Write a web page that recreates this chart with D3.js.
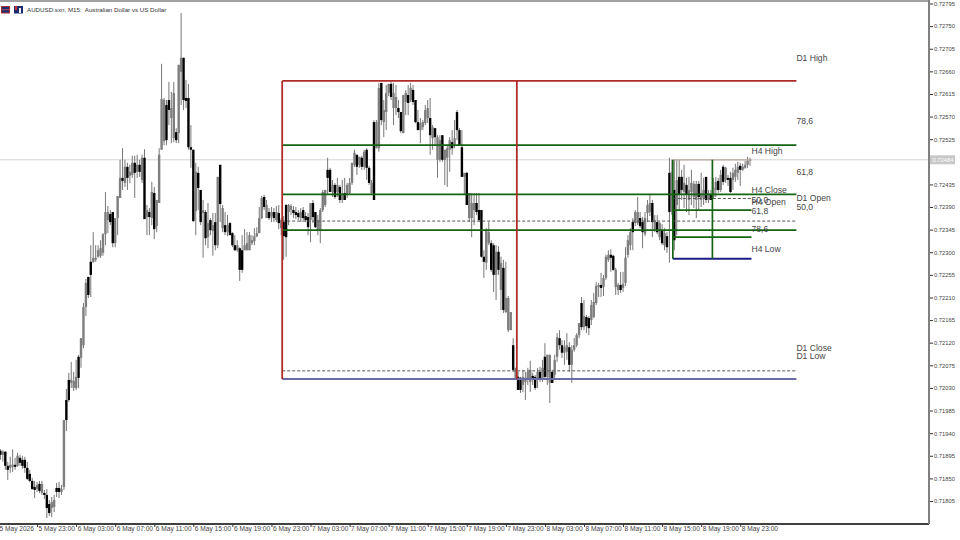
<!DOCTYPE html>
<html><head><meta charset="utf-8">
<script src="https://cdn.jsdelivr.net/npm/d3@7"></script>
<style>
html,body{margin:0;padding:0;background:#fff;overflow:hidden}
svg{display:block}
text{font-family:"Liberation Sans",Arial,sans-serif}
</style></head><body>
<svg id="c" width="960" height="540"></svg>
<script>
// All prices in points (price x 100000)
const opens=[71903,71905,71897,71903,71875,71871,71873,71877,71875,71891,
71887,71887,71871,71859,71845,71833,71829,71839,71821,71821,
71817,71799,71791,71793,71831,71831,71823,71833,72006,72046,
72040,72030,72030,72092,72090,72115,72191,72251,
72281,72281,72285,72291,72293,72299,72336,72364,72376,72380,72318,72368,
72408,72448,72438,72470,72452,72454,72478,72460,72474,72444,
72488,72370,72380,72368,72418,72352,72398,72504,72521,72593,
72603,72567,72527,72539,72537,72659,72687,72607,72607,72509,
72504,72382,72458,72424,72378,72380,72330,72364,72342,72360,
72314,72474,72348,72354,72340,72358,72338,72314,72304,72308,
72304,72304,72304,72304,72318,72322,72332,72338,72368,72410,
72368,72380,72372,72380,72364,72378,72348,72360,72394,72380,
72384,72384,72380,72378,72368,72384,72372,72370,72364,72398,
72380,72344,72344,72384,72394,72464,72464,72420,72434,72420,
72430,72404,72418,72414,72418,72438,72474,72494,72474,72488,
72470,72504,72468,72418,72559,72507,72507,72637,72559,72579,
72617,72635,72587,72587,72587,72579,72537,72599,72613,72603,
72623,72603,72559,72543,72549,72557,72567,72567,72527,72547,
72484,72484,72533,72484,72488,72504,72519,72513,72579,72543,
72509,72450,72458,72368,72368,72384,72398,72384,72384,72291,
72279,72318,72318,72314,72255,72301,72225,72269,72181,72145,
72145,72115,72050,72052,72050,72036,72042,72046,72042,72054,
72052,72046,72062,72050,72092,72052,72040,72062,72056,72092,
72129,72115,72100,72102,72111,72076,72106,72115,72135,72199,
72151,72171,72169,72165,72171,72199,72231,72235,72231,72249,
72285,72295,72293,72231,72225,72235,72229,72239,72295,72314,
72360,72358,72358,72368,72360,72336,72378,72380,72398,72344,
72360,72330,72344,72314,72332,72458,72380,72424,72394,72450,
72450,72420,72434,72404,72420,72410,72404,72436,72404,72408,
72450,72404,72414,72410,72424,72442,72424,72470,72444,72448,
72448,72444,72450,72458,72472,72464,72468,72474,72482];
const highs=[71910,71908,71906,71904,71883,71893,71908,71891,71901,71897,
71895,71893,71883,71867,71851,71845,71843,71845,71845,71827,
71829,71807,71813,71817,71841,71843,71837,71966,72028,72060,
72082,72062,72086,72096,72129,72199,72247,72251,
72314,72340,72314,72314,72324,72338,72420,72392,72384,72380,72368,72412,
72484,72507,72484,72478,72474,72492,72492,72494,72484,72494,
72505,72394,72388,72440,72430,72404,72507,72675,72607,72603,
72639,72619,72639,72547,72673,72776,72687,72643,72635,72553,
72504,72478,72470,72424,72404,72384,72398,72368,72378,72378,
72450,72474,72394,72380,72374,72360,72340,72334,72324,72310,
72334,72346,72340,72340,72334,72348,72350,72390,72412,72414,
72404,72388,72390,72388,72392,72394,72368,72372,72396,72396,
72396,72392,72390,72384,72388,72390,72380,72378,72398,72404,
72380,72374,72388,72424,72424,72488,72468,72444,72438,72448,
72434,72444,72448,72438,72448,72478,72504,72494,72490,72492,
72504,72507,72472,72444,72563,72563,72637,72637,72603,72633,
72635,72639,72637,72633,72603,72579,72613,72623,72633,72637,
72633,72603,72583,72567,72563,72593,72603,72607,72553,72547,
72533,72533,72533,72504,72513,72529,72543,72563,72583,72547,
72543,72458,72460,72418,72418,72418,72418,72418,72384,72304,
72348,72360,72324,72318,72314,72312,72291,72285,72281,72213,
72181,72129,72070,72062,72052,72066,72062,72070,72084,72060,
72056,72070,72072,72086,72119,72096,72096,72066,72096,72139,
72145,72125,72125,72139,72121,72115,72129,72139,72159,72211,
72205,72175,72173,72205,72219,72241,72239,72259,72255,72295,
72304,72306,72295,72269,72239,72261,72261,72310,72334,72348,
72368,72384,72410,72380,72370,72380,72404,72414,72404,72374,
72374,72360,72356,72348,72340,72488,72484,72484,72484,72484,
72464,72474,72448,72450,72464,72442,72442,72442,72458,72448,
72450,72424,72424,72448,72450,72448,72464,72474,72470,72454,
72460,72468,72476,72480,72478,72476,72482,72490,72488];
const lows=[71891,71887,71883,71867,71847,71861,71863,71867,71873,71875,
71869,71861,71847,71843,71827,71811,71823,71821,71817,71809,
71771,71775,71773,71783,71813,71811,71817,71827,71944,72002,
72030,72024,72026,72030,72070,72109,72173,72209,
72211,72279,72281,72289,72289,72293,72314,72338,72354,72310,72310,72334,
72408,72424,72430,72424,72438,72448,72408,72448,72450,72438,
72366,72334,72334,72354,72326,72340,72398,72504,72513,72513,
72553,72517,72519,72517,72517,72593,72583,72587,72504,72468,
72360,72334,72384,72354,72289,72314,72308,72334,72293,72304,
72308,72360,72340,72334,72332,72334,72310,72303,72301,72243,
72259,72304,72304,72304,72314,72314,72330,72338,72366,72384,
72368,72364,72360,72360,72360,72346,72334,72285,72291,72354,
72374,72368,72366,72364,72360,72364,72360,72334,72320,72358,
72348,72334,72318,72380,72390,72414,72420,72410,72406,72410,
72398,72398,72404,72408,72414,72434,72470,72454,72468,72464,
72464,72444,72434,72414,72404,72507,72500,72553,72529,72543,
72611,72603,72553,72573,72567,72537,72537,72573,72573,72599,
72593,72557,72543,72517,72543,72553,72557,72494,72504,72513,
72448,72480,72480,72434,72430,72460,72494,72507,72523,72513,
72450,72414,72394,72360,72330,72354,72374,72360,72289,72249,
72265,72314,72261,72221,72205,72255,72185,72179,72179,72141,
72145,72062,72046,72026,72020,72022,72006,72036,72022,72036,
72026,72030,72042,72042,72046,72036,72000,72040,72050,72082,
72106,72090,72076,72086,72062,72040,72102,72111,72129,72145,
72145,72139,72135,72155,72169,72195,72211,72211,72213,72245,
72281,72261,72263,72215,72215,72219,72221,72233,72289,72304,
72304,72352,72354,72348,72308,72332,72360,72372,72330,72340,
72336,72324,72314,72304,72299,72279,72374,72304,72334,72384,
72404,72388,72380,72374,72394,72388,72368,72384,72390,72394,
72398,72398,72404,72406,72410,72418,72420,72434,72438,72432,
72418,72424,72440,72444,72432,72462,72466,72468,72472];
const closes=[71903,71897,71903,71875,71867,71877,71877,71873,71895,71881,
71875,71871,71849,71845,71829,71827,71837,71825,71839,71817,
71791,71781,71803,71807,71823,71823,71829,71966,71966,72006,
72046,72044,72052,72050,72129,72191,72239,72215,
72255,72289,72289,72304,72308,72336,72380,72380,72360,72318,72368,72412,
72448,72442,72470,72448,72460,72478,72458,72474,72460,72488,
72366,72384,72370,72420,72346,72404,72494,72605,72603,72523,
72583,72587,72617,72523,72673,72687,72603,72601,72509,72504,
72362,72460,72428,72360,72384,72328,72358,72344,72354,72314,
72450,72396,72388,72340,72354,72334,72314,72304,72314,72265,
72265,72314,72318,72334,72324,72332,72338,72368,72408,72390,
72394,72368,72380,72368,72380,72358,72364,72332,72330,72394,
72392,72378,72374,72370,72380,72368,72364,72350,72398,72370,
72350,72364,72384,72420,72424,72448,72420,72434,72410,72434,
72404,72414,72404,72434,72438,72478,72498,72470,72490,72470,
72500,72468,72438,72438,72404,72559,72627,72563,72583,72617,
72635,72609,72617,72609,72579,72541,72613,72617,72597,72627,
72599,72559,72543,72557,72559,72583,72587,72533,72549,72529,
72529,72523,72484,72504,72507,72523,72507,72527,72543,72513,
72450,72458,72394,72418,72398,72398,72380,72364,72291,72281,
72344,72340,72265,72255,72301,72265,72279,72185,72209,72209,
72181,72066,72070,72026,72026,72052,72050,72062,72066,72046,
72030,72062,72048,72070,72052,72096,72096,72040,72086,72131,
72115,72100,72111,72115,72076,72106,72115,72135,72159,72151,
72173,72153,72149,72195,72201,72233,72235,72229,72249,72291,
72295,72289,72265,72265,72235,72225,72237,72289,72324,72340,
72340,72380,72380,72352,72340,72368,72394,72398,72360,72364,
72340,72358,72318,72338,72310,72380,72460,72324,72444,72414,
72424,72438,72414,72424,72438,72436,72436,72410,72418,72424,
72404,72418,72404,72428,72440,72424,72454,72440,72468,72444,
72420,72458,72464,72470,72464,72470,72474,72482,72484];

const priceTicks=[72795,72750,72705,72660,72615,72570,72525,72435,72390,72345,72300,72255,72210,72165,72120,72075,72030,71985,71940,71895,71850,71805];
const timeTickBars=[0,16,32,48,64,80,96,112,128,144,160,176,192,208,224,240,256,272,288,304];
const timeTickLabels=["5 May 2026","5 May 23:00","6 May 03:00","6 May 07:00","6 May 11:00","6 May 15:00","6 May 19:00","6 May 23:00","7 May 03:00","7 May 07:00","7 May 11:00","7 May 15:00","7 May 19:00","7 May 23:00","8 May 03:00","8 May 07:00","8 May 11:00","8 May 15:00","8 May 19:00","8 May 23:00"];
const lastPrice=72484;

// Level lines: [price, start bar, end bar, kind]
const d1Start=116.4,d1Mid=212.5,d1End=327;
const h4Start=276.4,h4Mid=292.6,h4End=308.6;
const d1High=72641,d1Low=72048,d1Close=72064,d1Fib786=72513,d1Fib618=72415,d1Fib50=72362,d1Fib382=72344;
const h4High=72484,h4Low=72287,h4Fib50=72407,h4Fib618=72384,h4Fib786=72330;

const levelPrices=[d1High,d1Fib786,d1Fib618,d1Fib50,d1Fib382,d1Close,d1Low,h4High,h4Fib50,h4Fib618,h4Fib786,h4Low];
const levelStarts=[d1Start,d1Start,d1Start,d1Start,d1Start,d1Start,d1Start,h4Start,h4Start,h4Start,h4Start,h4Start];
const levelEnds=[d1End,d1End,d1End,d1End,d1End,d1End,d1End,h4End,h4End,h4End,h4End,h4End];
const levelKinds=["red","green","green","dash","green","dash","d1low","h4top","dash","green","green","h4low"];
const verticalBars=[d1Start,d1Mid,h4Start,h4Mid];
const verticalTops=[d1High,d1High,h4High,h4High];
const verticalBottoms=[d1Low,d1Low,h4Low,h4Low];
const verticalKinds=["red","red","green","green"];

const labelTexts=["D1 High","78,6","61,8","D1 Open","50,0","D1 Close","D1 Low","H4 High","H4 Close","50,0","H4 Open","61,8","78,6","H4 Low"];
const labelBars=[327,327,327,327,327,327,327,308.6,308.6,308.6,308.6,308.6,308.6,308.6];
const labelPrices=[72687,72561,72460,72408,72390,72109,72093,72502,72424,72404,72400,72382,72346,72306];

const W=929,B=524;
const x=d3.scaleLinear().domain([0,308]).range([-2,750]);
const y=d3.scaleLinear().domain([71805,72795]).range([501,3.5]);
const svg=d3.select("#c");
const grey="#808080";
const kindColor={red:"#b02a2a",green:"#146414",dash:"#555",d1low:"#6c6ca4",h4top:"#b8a8a0",h4low:"#1c1c84"};
const kindWidth={red:1.8,green:1.7,dash:1,d1low:2,h4top:1.2,h4low:2};

// price line
svg.append("line").attr("x1",0).attr("x2",W).attr("y1",y(lastPrice)).attr("y2",y(lastPrice)).attr("stroke","#d4d4d4").attr("stroke-width",1);

// candles
const g=svg.append("g");
const idx=d3.range(opens.length);
g.selectAll(".w").data(idx).join("line").attr("class","w")
 .attr("x1",i=>x(i)).attr("x2",i=>x(i)).attr("y1",i=>y(highs[i])).attr("y2",i=>y(lows[i]))
 .attr("stroke","#777").attr("stroke-width",1);
g.selectAll(".b").data(idx).join("rect").attr("class","b")
 .attr("x",i=>x(i)-1.2).attr("width",2.4)
 .attr("y",i=>y(Math.max(opens[i],closes[i])))
 .attr("height",i=>Math.max(0.8,Math.abs(y(opens[i])-y(closes[i]))))
 .attr("fill",i=>closes[i]>=opens[i]?"#7e7e7e":"#000");

// levels
const l=svg.append("g");
l.selectAll(".lv").data(levelPrices).join("line").attr("class","lv")
 .attr("x1",(d,i)=>x(levelStarts[i])).attr("x2",(d,i)=>x(levelEnds[i]))
 .attr("y1",d=>y(d)).attr("y2",d=>y(d))
 .attr("stroke",(d,i)=>kindColor[levelKinds[i]]).attr("stroke-width",(d,i)=>kindWidth[levelKinds[i]])
 .attr("stroke-dasharray",(d,i)=>levelKinds[i]==="dash"?"3,2":null);
l.selectAll(".vt").data(verticalBars).join("line").attr("class","vt")
 .attr("x1",d=>x(d)).attr("x2",d=>x(d))
 .attr("y1",(d,i)=>y(verticalTops[i])).attr("y2",(d,i)=>y(verticalBottoms[i]))
 .attr("stroke",(d,i)=>kindColor[verticalKinds[i]]).attr("stroke-width",(d,i)=>kindWidth[verticalKinds[i]]);

// labels
svg.append("g").selectAll("text").data(labelTexts).join("text")
 .attr("x",(d,i)=>x(labelBars[i])).attr("y",(d,i)=>y(labelPrices[i])).attr("dy","0.35em")
 .attr("font-size",8.6).attr("fill","#444").text(d=>d);

// frame
svg.append("line").attr("x1",0).attr("x2",W).attr("y1",1).attr("y2",1).attr("stroke",grey).attr("stroke-width",1.5);
svg.append("line").attr("x1",0).attr("x2",W).attr("y1",B).attr("y2",B).attr("stroke","#000").attr("stroke-width",1.3);
svg.append("line").attr("x1",W).attr("x2",W).attr("y1",0).attr("y2",B).attr("stroke",grey).attr("stroke-width",2);

// axes
const ax=d3.axisBottom(x).tickValues(timeTickBars).tickFormat((d,i)=>timeTickLabels[i]).tickSize(3).tickPadding(1);
const gx=svg.append("g").attr("transform",`translate(0,${B})`).call(ax);
gx.select(".domain").remove();
gx.selectAll("line").attr("stroke","#333");
gx.selectAll("text").attr("text-anchor","start").attr("dx",1).attr("y",2.5).attr("font-size",6.6).attr("fill","#444")
  .attr("font-family",'"Liberation Sans",sans-serif');

const ay=d3.axisRight(y).tickValues(priceTicks).tickFormat(v=>(v/1e5).toFixed(5)).tickSize(3).tickPadding(1);
const gy=svg.append("g").attr("transform",`translate(${W+1},0)`).call(ay);
gy.select(".domain").remove();
gy.selectAll("line").attr("stroke","#333");
gy.selectAll("text").attr("font-size",5.8).attr("fill","#444").attr("font-family",'"Liberation Sans",sans-serif');

// last price tag
svg.append("rect").attr("x",W+1).attr("y",y(lastPrice)-4.5).attr("width",25).attr("height",9).attr("fill","#c8c8c8");
svg.append("text").attr("x",W+3.5).attr("y",y(lastPrice)).attr("dy","0.35em").attr("font-size",5.8).attr("fill","#fff").text((lastPrice/1e5).toFixed(5));

// title
const ic=svg.append("g");
ic.append("rect").attr("x",1.5).attr("y",6.5).attr("width",8).attr("height",6.5).attr("fill","#1d2c6e").attr("stroke","#a33").attr("stroke-width",1);
ic.append("line").attr("x1",2).attr("x2",9).attr("y1",9.7).attr("y2",9.7).attr("stroke","#b55");
ic.append("rect").attr("x",14).attr("y",6).attr("width",9).attr("height",7.5).attr("fill","#1d2c6e");
ic.append("rect").attr("x",15).attr("y",6).attr("width",2).attr("height",4).attr("fill","#c33");
ic.append("rect").attr("x",19).attr("y",8).attr("width",2).attr("height",5).attr("fill","#eee");
svg.append("text").attr("x",27).attr("y",12).attr("font-size",6.2).attr("fill","#333")
 .attr("xml:space","preserve").text("AUDUSD.sxn, M15:  Australian Dollar vs US Dollar");
</script>
</body></html>
